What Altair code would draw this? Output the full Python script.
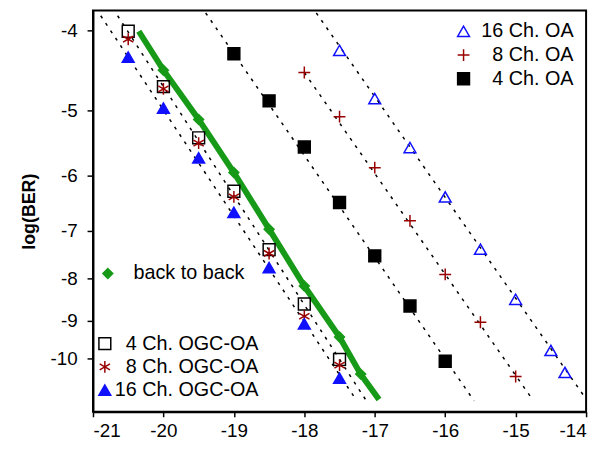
import altair as alt
import pandas as pd

SP = "\u200b\u00a0\u00a0"  # zero-width char + two no-break spaces: indent one-digit labels

# ---- data (x in dBm-like units, y = log(BER)) ----
oa4_x = [-19.0, -18.5, -18.0, -17.5, -17.0, -16.5, -16.0]
oa4_y = [-4.27, -4.87, -5.54, -6.47, -7.51, -8.64, -10.08]
oa8_x = [-18.0, -17.5, -17.0, -16.5, -16.0, -15.5, -15.0]
oa8_y = [-4.50, -5.09, -5.87, -6.81, -7.91, -9.04, -10.52]
oa16_x = [-17.5, -17.0, -16.5, -16.0, -15.5, -15.0, -14.5, -14.3]
oa16_y = [-4.23, -4.84, -5.55, -6.37, -7.37, -8.48, -9.78, -10.40]

ogc_x = [-20.5, -20.0, -19.5, -19.0, -18.5, -18.0, -17.5]
ogc4_y = [-4.01, -4.68, -5.40, -6.27, -7.38, -8.59, -10.03]
ogc8_y = [-4.10, -4.71, -5.48, -6.37, -7.46, -8.89, -10.19]
ogc16_y = [-4.31, -4.97, -5.71, -6.65, -7.76, -9.08, -10.57]

b2b_x = [-20.0, -19.5, -19.0, -18.5, -18.0, -17.5, -17.2]
b2b_y = [-4.47, -5.13, -5.95, -6.97, -8.17, -9.42, -10.45]
b2b_line_x = [-20.35] + b2b_x + [-16.94]
b2b_line_y = [-4.01] + b2b_y + [-11.22]

# dashed fit lines (start / end points)
fit_ids = ["4 Ch. OA", "8 Ch. OA", "16 Ch. OA", "16 Ch. OGC-OA", "4/8 Ch. OGC-OA"]
fit_x0 = [-19.40, -18.00, -17.83, -20.89, -20.65]
fit_y0 = [-3.81, -4.50, -3.81, -3.84, -3.84]
fit_x1 = [-15.59, -14.76, -14.02, -17.255, -17.09]
fit_y1 = [-11.26, -11.22, -11.14, -11.26, -11.36]

x_ticks = [-21, -20, -19, -18, -17, -16, -15, -14]
y_ticks = [-4, -5, -6, -7, -8, -9, -10]

oa_names = ["16 Ch. OA", SP + "8 Ch. OA", SP + "4 Ch. OA"]
ogc_names = [SP + "4 Ch. OGC-OA", SP + "8 Ch. OGC-OA", "16 Ch. OGC-OA"]
b2b_names = ["back to back"]

# ---- tables ----
oa_df = pd.concat([
    pd.DataFrame({"x": oa16_x, "y": oa16_y, "s": oa_names[0]}),
    pd.DataFrame({"x": oa8_x, "y": oa8_y, "s": oa_names[1]}),
    pd.DataFrame({"x": oa4_x, "y": oa4_y, "s": oa_names[2]}),
])
ogc_df = pd.concat([
    pd.DataFrame({"x": ogc_x, "y": ogc4_y, "s": ogc_names[0]}),
    pd.DataFrame({"x": ogc_x, "y": ogc8_y, "s": ogc_names[1]}),
    pd.DataFrame({"x": ogc_x, "y": ogc16_y, "s": ogc_names[2]}),
])
b2b_df = pd.DataFrame({"x": b2b_x, "y": b2b_y, "s": b2b_names[0]})
b2b_line_df = pd.DataFrame({"x": b2b_line_x, "y": b2b_line_y})
fit_df = pd.DataFrame({
    "x": fit_x0 + fit_x1,
    "y": fit_y0 + fit_y1,
    "g": fit_ids + fit_ids,
})

FONT = "Liberation Sans"
BLUE = "#1010ff"
RED = "#990000"
GREEN = "#179a17"
PLUS = "M-1,0H1M0,-1V1"
STAR = "M0,-1V1M-0.87,-0.5L0.87,0.5M-0.87,0.5L0.87,-0.5"

X = alt.X("x:Q",
          scale=alt.Scale(domain=[-21, -14], nice=False, zero=False),
          axis=alt.Axis(values=x_ticks, labelExpr="'-' + abs(datum.value)",
                        title=None, labelPadding=5, tickSize=5))
Y = alt.Y("y:Q",
          scale=alt.Scale(type="log", domain=[-11.61, -3.785], nice=False),
          axis=alt.Axis(values=y_ticks, labelExpr="'-' + abs(datum.value)",
                        title="log(BER)", labelPadding=10, titlePadding=12,
                        titleFontSize=18, titleFontWeight="bold", titleFont=FONT,
                        titleColor="black"))


def leg(x, y, row_pad, offset, size):
    return alt.Legend(orient="none", legendX=x, legendY=y, title=None, padding=0,
                      rowPadding=row_pad, labelOffset=offset, symbolSize=size,
                      symbolStrokeWidth=1.5, labelFontSize=20, labelFont=FONT,
                      labelColor="black", labelLimit=0)


def points(df, names, shapes, fills, strokes, legend, size):
    return alt.Chart(df).mark_point(size=size, strokeWidth=1.5, opacity=1).encode(
        x=X, y=Y,
        shape=alt.Shape("s:N", scale=alt.Scale(domain=names, range=shapes), legend=legend),
        fill=alt.Fill("s:N", scale=alt.Scale(domain=names, range=fills), legend=legend),
        stroke=alt.Stroke("s:N", scale=alt.Scale(domain=names, range=strokes), legend=legend),
    )


fits = alt.Chart(fit_df).mark_line(color="black", strokeWidth=1.5, strokeDash=[3, 6]).encode(
    x=X, y=Y, detail="g:N")
green_line = alt.Chart(b2b_line_df).mark_line(color=GREEN, strokeWidth=6).encode(x=X, y=Y)

oa_pts = points(oa_df, oa_names, ["triangle-up", PLUS, "square"],
                ["transparent", "transparent", "black"], [BLUE, RED, "black"],
                leg(365, 11, 4, 8, 144), 144)
ogc_pts = points(ogc_df, ogc_names, ["square", STAR, "triangle-up"],
                 ["transparent", "transparent", BLUE], ["black", RED, BLUE],
                 leg(2, 327, 3.5, 0, 144), 144)
b2b_pts = points(b2b_df, b2b_names, ["diamond"], [GREEN], [GREEN],
                 leg(5, 256, 2, 16, 100), 100)

chart = alt.layer(fits, green_line, oa_pts, ogc_pts, b2b_pts).resolve_scale(
    shape="independent", fill="independent", stroke="independent"
).properties(
    width=499, height=406,
    padding={"left": 86, "top": 0, "right": 8, "bottom": 34},
    autosize=alt.AutoSizeParams(type="none"),
    background="white",
).configure_view(
    stroke="black", strokeWidth=2
).configure_axis(
    domainColor="black", domainWidth=2, tickColor="black", tickWidth=1.5,
    tickSize=6, labelColor="black", labelFont=FONT, labelFontSize=19, grid=False,
)

chart.save("out.html", embed_options={"renderer": "svg", "actions": False})
